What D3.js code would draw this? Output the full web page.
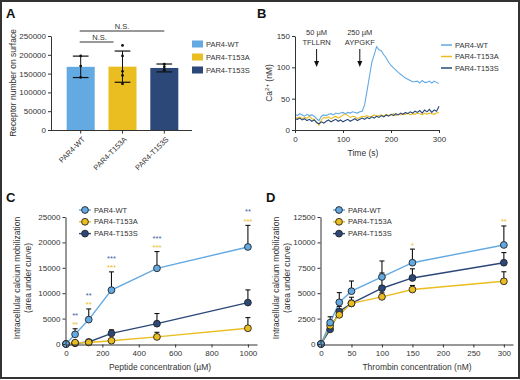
<!DOCTYPE html>
<html><head><meta charset="utf-8">
<script src="https://cdn.jsdelivr.net/npm/d3@7"></script>
<style>
body{margin:0;background:#fff}
svg{display:block}
text{font-family:"Liberation Sans",Arial,sans-serif;fill:#333}
.plab{font-family:"Liberation Sans",Arial,sans-serif;font-weight:bold;fill:#111}
</style></head><body>
<svg id="c" width="520" height="380"></svg>
<script>
// ---------- data ----------
const groups = ["PAR4-WT","PAR4-T153A","PAR4-T153S"];
const colors = ["#63a9e2","#eabd20","#2b4878"];
const starColors = ["#3b5fa3","#eabd20"];

// Panel A
const receptorMean = [168000,168500,165000];
const receptorErr = [28500,41500,10500];
const receptorPoints = [[197000,170000,140000],[225000,197000,156000,145000,123000],[175000,168000,161000,159000]];
const receptorTicks = [0,50000,100000,150000,200000,250000];
const sigPairs = [["PAR4-WT","PAR4-T153A"],["PAR4-WT","PAR4-T153S"]];
const sigLabels = ["N.S.","N.S."];

// Panel B
const time = [0,5,10,15,20,25,30,35,40,45,50,55,60,65,70,75,80,85,90,95,100,105,110,115,120,125,130,135,140,145,150,155,160,165,170,175,180,185,190,195,200,205,210,215,220,225,230,235,240,245,250,255,260,265,270,275,280,285,290,295,300];
const caWT = [25,23,26,24,22,25,23,24,22,18,15,22,24,23,25,26,24,27,26,27,28,26,28,27,29,28,27,29,30,40,62,85,108,120,133,128,126,120,115,108,103,99,96,92,89,86,83,81,79,77,77,78,75,79,76,76,78,75,78,76,74];
const caA = [20,19,21,18,20,19,22,18,17,12,8,16,20,19,21,18,20,22,19,21,24,26,23,20,22,21,18,20,22,21,23,21,22,24,22,23,24,22,25,23,24,26,23,25,24,26,25,27,24,26,25,27,26,24,27,25,27,26,25,27,28];
const caS = [18,17,19,16,18,15,17,14,16,12,10,13,11,14,16,13,15,17,14,16,13,15,17,14,16,18,15,17,19,17,20,18,21,19,22,20,23,21,24,22,25,23,26,24,27,25,28,26,29,27,30,28,31,27,32,29,33,28,32,30,38];
const caTicksX = [0,100,200,300];
const caTicksY = [0,50,100,150];
const stimTimes = [45,135];
const stimText = [["50 µM","TFLLRN"],["250 µM","AYPGKF"]];

// Panel C
const peptideConc = [0,50,125,250,500,1000];
const pepWT = [0,1900,4800,10600,14900,19100];
const pepWTErr = [0,1100,2100,3600,3300,4250];
const pepA = [0,260,300,650,1400,3100];
const pepAErr = [0,100,200,300,900,2100];
const pepS = [0,150,400,2100,4000,8150];
const pepSErr = [0,100,300,700,2000,2500];
const pepStarsBlue = ["","**","**","***","***","**"];
const pepStarsYellow = ["","**","**","***","***","***"];
const pepTicksX = [0,200,400,600,800,1000];
const pepTicksY = [0,5000,10000,15000,20000,25000];

// Panel D
const thrConc = [0,15,30,50,100,150,300];
const thrWT = [0,2100,4100,5200,6600,8000,9750];
const thrWTErr = [0,580,960,1000,1570,1340,1870];
const thrA = [0,1800,2870,4000,4640,5360,6170];
const thrAErr = [0,200,300,300,400,400,940];
const thrS = [0,1440,3200,4000,5490,6500,8000];
const thrSErr = [0,300,500,600,1500,900,1000];
const thrStarsBlue = ["","","","","","",""];
const thrStarsYellow = ["","","","","","*","**"];
const thrTicksX = [0,50,100,150,200,250,300];
const thrTicksY = [0,2500,5000,7500,10000,12500];

// ---------- drawing ----------
const svg = d3.select("#c");
svg.append("rect").attr("x",1).attr("y",1).attr("width",518).attr("height",377)
  .attr("fill","#fff").attr("stroke","#333").attr("stroke-width",2);
const fmt = d3.format("d");

function styleAxis(g, fs){
  g.select(".domain").attr("stroke","#333").attr("stroke-width",1);
  g.selectAll(".tick line").attr("stroke","#333");
  g.selectAll(".tick text").attr("fill","#333").style("font-size",fs+"px")
   .style("font-family",'"Liberation Sans",Arial,sans-serif');
}
function panelLabel(t,x,y){ svg.append("text").attr("class","plab").attr("x",x).attr("y",y).style("font-size","13px").text(t); }

// ===== Panel A =====
panelLabel("A",6,18);
const xA = d3.scaleBand().domain(groups).range([60,185]).paddingInner(0.33).paddingOuter(0.16);
const yA = d3.scaleLinear().domain([0,250000]).range([130,36]);
const gA = svg.append("g");
gA.selectAll("rect.bar").data(groups).join("rect")
  .attr("x",d=>xA(d)).attr("width",xA.bandwidth())
  .attr("y",(d,i)=>yA(receptorMean[i])).attr("height",(d,i)=>yA(0)-yA(receptorMean[i]))
  .attr("fill",(d,i)=>colors[i]);
groups.forEach((g,i)=>{
  const cx = xA(g)+xA.bandwidth()/2, hw = xA.bandwidth()*0.28;
  const top = yA(receptorMean[i]+receptorErr[i]), bot = yA(receptorMean[i]-receptorErr[i]);
  gA.append("line").attr("x1",cx).attr("x2",cx).attr("y1",top).attr("y2",bot).attr("stroke","#111").attr("stroke-width",1);
  [top,bot].forEach(yy=>gA.append("line").attr("x1",cx-hw).attr("x2",cx+hw).attr("y1",yy).attr("y2",yy).attr("stroke","#111").attr("stroke-width",1.2));
  receptorPoints[i].forEach(v=>gA.append("circle").attr("cx",cx).attr("cy",yA(v)).attr("r",1.4).attr("fill","#111"));
});
const axYA = gA.append("g").attr("transform","translate(51,0)")
  .call(d3.axisLeft(yA).tickValues(receptorTicks).tickFormat(fmt).tickSize(3).tickSizeOuter(0).tickPadding(2));
styleAxis(axYA,8);
gA.append("line").attr("x1",51).attr("x2",192).attr("y1",130.5).attr("y2",130.5).attr("stroke","#333");
const axXA = gA.append("g").attr("transform","translate(0,130.5)")
  .call(d3.axisBottom(xA).tickSize(3).tickSizeOuter(0).tickFormat(""));
axXA.select(".domain").remove();
axXA.selectAll(".tick line").attr("stroke","#333");
groups.forEach(g=>{
  const cx = xA(g)+xA.bandwidth()/2;
  gA.append("text").attr("transform",`translate(${cx+3},${138}) rotate(-45)`)
    .attr("text-anchor","end").attr("dy","0.35em").style("font-size","7.5px").text(g);
});
gA.append("text").attr("transform","translate(16,83) rotate(-90)").attr("text-anchor","middle")
  .style("font-size","8.5px").text("Receptor number on surface");
sigPairs.forEach((p,i)=>{
  const x1 = xA(p[0])+xA.bandwidth()/2 - 1;
  const x2 = xA(p[1])+xA.bandwidth()/2 - (i===0?9:0);
  const yy = 42 - i*11;
  gA.append("line").attr("x1",x1).attr("x2",x2).attr("y1",yy).attr("y2",yy).attr("stroke","#333").attr("stroke-width",1);
  gA.append("text").attr("x",(x1+x2)/2 + (i===0?3:0)).attr("y",yy-2.5).attr("text-anchor","middle").style("font-size","7.5px").text(sigLabels[i]);
});
groups.forEach((g,i)=>{
  const ly = 44 + i*13;
  gA.append("rect").attr("x",192).attr("y",ly-3.5).attr("width",11).attr("height",7).attr("fill",colors[i]);
  gA.append("text").attr("x",206).attr("y",ly).attr("dy","0.35em").style("font-size","7.5px").text(g);
});

// ===== Panel B =====
panelLabel("B",257,18);
const xB = d3.scaleLinear().domain([0,300]).range([295,439]);
const yB = d3.scaleLinear().domain([0,150]).range([130,36]);
const gB = svg.append("g");
const lineB = d3.line().x((d,i)=>xB(time[i])).y(d=>yB(d));
[[caA,1],[caS,2],[caWT,0]].forEach(([arr,ci])=>{
  gB.append("path").datum(arr).attr("d",lineB).attr("fill","none").attr("stroke",colors[ci]).attr("stroke-width",1.1);
});
const axYB = gB.append("g").attr("transform","translate(295,0)")
  .call(d3.axisLeft(yB).tickValues(caTicksY).tickFormat(fmt).tickSize(3).tickSizeOuter(0).tickPadding(2));
styleAxis(axYB,8);
const axXB = gB.append("g").attr("transform","translate(0,130)")
  .call(d3.axisBottom(xB).tickValues(caTicksX).tickFormat(fmt).tickSize(3).tickSizeOuter(0).tickPadding(3));
styleAxis(axXB,8);
gB.append("text").attr("x",363).attr("y",156).attr("text-anchor","middle").style("font-size","8.5px").text("Time (s)");
const ylB = gB.append("text").attr("transform","translate(272,83) rotate(-90)").attr("text-anchor","middle").style("font-size","8.5px");
ylB.append("tspan").text("Ca");
ylB.append("tspan").attr("dy",-3).style("font-size","6px").text("2+");
ylB.append("tspan").attr("dy",3).text(" (nM)");
stimTimes.forEach((t,i)=>{
  const x = xB(t);
  gB.append("text").attr("x",x).attr("y",35).attr("text-anchor","middle").style("font-size","7.5px").text(stimText[i][0]);
  gB.append("text").attr("x",x).attr("y",45).attr("text-anchor","middle").style("font-size","7.5px").text(stimText[i][1]);
  gB.append("line").attr("x1",x).attr("x2",x).attr("y1",49).attr("y2",62).attr("stroke","#111").attr("stroke-width",1);
  gB.append("path").attr("d",`M${x-2.5},${61}L${x+2.5},${61}L${x},${67}Z`).attr("fill","#111");
});
groups.forEach((g,i)=>{
  const ly = 45 + i*11.5;
  gB.append("line").attr("x1",441).attr("x2",452).attr("y1",ly).attr("y2",ly).attr("stroke",colors[i]).attr("stroke-width",1.5);
  gB.append("text").attr("x",455).attr("y",ly).attr("dy","0.35em").style("font-size","7.5px").text(g);
});

// ===== Panels C, D =====
function dosePanel(o){
  const g = svg.append("g");
  const x = d3.scaleLinear().domain(o.xDomain).range(o.xRange);
  const y = d3.scaleLinear().domain(o.yDomain).range([344,217]);
  const order = [2,1,0];
  order.forEach(k=>{
    const s = o.series[k];
    g.append("path").datum(s.v).attr("d",d3.line().x((d,i)=>x(o.conc[i])).y(d=>y(d)))
      .attr("fill","none").attr("stroke",colors[k]).attr("stroke-width",1.4);
  });
  order.forEach(k=>{
    const s = o.series[k];
    s.v.forEach((v,i)=>{
      if(!s.e[i]) return;
      const cx = x(o.conc[i]);
      g.append("line").attr("x1",cx).attr("x2",cx).attr("y1",y(v)).attr("y2",y(v+s.e[i])).attr("stroke","#111").attr("stroke-width",1.1);
      g.append("line").attr("x1",cx-2.5).attr("x2",cx+2.5).attr("y1",y(v+s.e[i])).attr("y2",y(v+s.e[i])).attr("stroke","#111").attr("stroke-width",1.1);
    });
  });
  order.forEach(k=>{
    const s = o.series[k];
    g.selectAll(null).data(s.v).join("circle").attr("cx",(d,i)=>x(o.conc[i])).attr("cy",d=>y(d))
      .attr("r",3.4).attr("fill",colors[k]).attr("stroke","#222").attr("stroke-width",0.9);
  });
  o.conc.forEach((c,i)=>{
    const capY = y(o.series[0].v[i]+o.series[0].e[i]);
    if(o.starsY[i]) g.append("text").attr("x",x(c)).attr("y",capY-1.5).attr("text-anchor","middle")
        .style("font-size","7.5px").style("fill",starColors[1]).text(o.starsY[i]);
    if(o.starsB[i]) g.append("text").attr("x",x(c)).attr("y",capY-11).attr("text-anchor","middle")
        .style("font-size","7.5px").style("fill",starColors[0]).text(o.starsB[i]);
  });
  const ay = g.append("g").attr("transform",`translate(${o.xRange[0]-0.5},0)`)
    .call(d3.axisLeft(y).tickValues(o.yTicks).tickFormat(fmt).tickSize(3).tickSizeOuter(0).tickPadding(2));
  styleAxis(ay,8);
  const ax = g.append("g").attr("transform","translate(0,344.5)")
    .call(d3.axisBottom(x).tickValues(o.xTicks).tickFormat(fmt).tickSize(3).tickSizeOuter(0).tickPadding(3));
  styleAxis(ax,8);
  g.append("text").attr("x",o.xLabelX).attr("y",370).attr("text-anchor","middle").style("font-size","8.5px").text(o.xLabel);
  g.append("text").attr("transform",`translate(${o.yLabX},278) rotate(-90)`).attr("text-anchor","middle").style("font-size","8.5px").text("Intracellular calcium mobilization");
  g.append("text").attr("transform",`translate(${o.yLabX+11},278) rotate(-90)`).attr("text-anchor","middle").style("font-size","8.5px").text("(area under curve)");
  groups.forEach((gname,i)=>{
    const ly = 210 + i*11.8;
    g.append("line").attr("x1",o.legX-6).attr("x2",o.legX+6).attr("y1",ly).attr("y2",ly).attr("stroke",colors[i]).attr("stroke-width",1.4);
    g.append("circle").attr("cx",o.legX).attr("cy",ly).attr("r",3.4).attr("fill",colors[i]).attr("stroke","#222").attr("stroke-width",0.9);
    g.append("text").attr("x",o.legX+9).attr("y",ly).attr("dy","0.35em").style("font-size","7.5px").text(gname);
  });
}
panelLabel("C",6,202);
dosePanel({conc:peptideConc, xDomain:[0,1050], xRange:[66,257], yDomain:[0,25000],
  series:[{v:pepWT,e:pepWTErr},{v:pepA,e:pepAErr},{v:pepS,e:pepSErr}],
  starsB:pepStarsBlue, starsY:pepStarsYellow, xTicks:pepTicksX, yTicks:pepTicksY,
  xLabel:"Peptide concentration (µM)", xLabelX:160, yLabX:20, legX:85});
panelLabel("D",266,202);
dosePanel({conc:thrConc, xDomain:[0,315], xRange:[321,513], yDomain:[0,12500],
  series:[{v:thrWT,e:thrWTErr},{v:thrA,e:thrAErr},{v:thrS,e:thrSErr}],
  starsB:thrStarsBlue, starsY:thrStarsYellow, xTicks:thrTicksX, yTicks:thrTicksY,
  xLabel:"Thrombin concentration (nM)", xLabelX:417, yLabX:279, legX:339});
</script></body></html>
